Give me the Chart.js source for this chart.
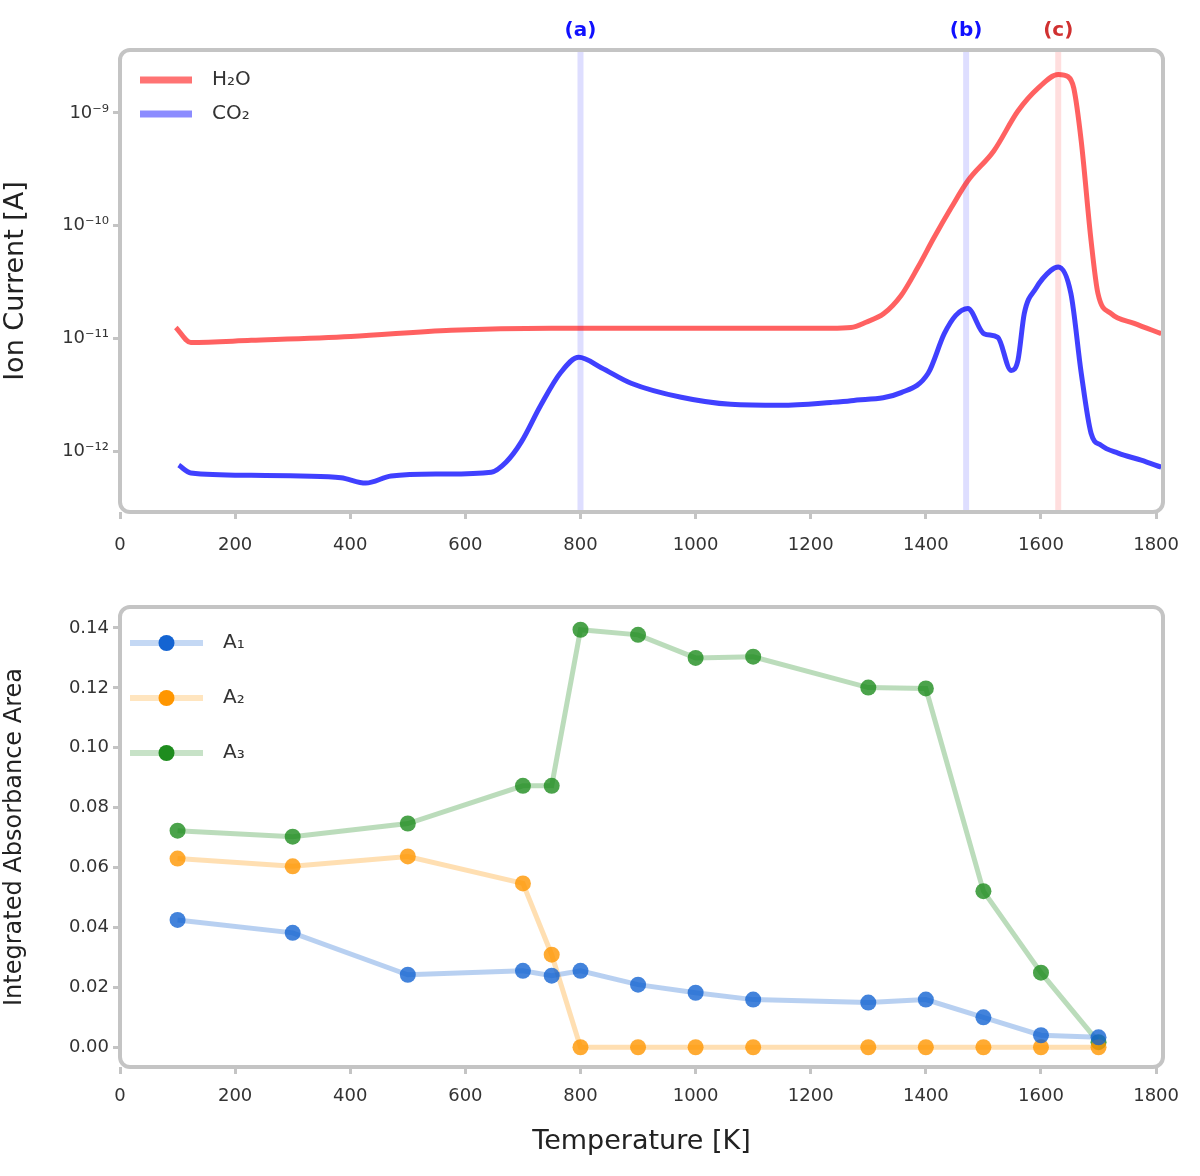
<!DOCTYPE html>
<html>
<head>
<meta charset="utf-8">
<script src="https://cdn.jsdelivr.net/npm/chart.js@4.4.1/dist/chart.umd.min.js"></script>
<style>
  body { margin: 0; background: #fff; }
  #wrap { position: relative; width: 1200px; height: 1176px; }
  #topBox { position: absolute; left: 0; top: 0; width: 1200px; height: 580px; }
  #botBox { position: absolute; left: 0; top: 580px; width: 1200px; height: 596px; }
</style>
</head>
<body>
<div id="wrap">
  <div id="topBox"><canvas id="ionChart"></canvas></div>
  <div id="botBox"><canvas id="areaChart"></canvas></div>
</div>
<script>
// --- top panel: ion current (log scale) ---
const redLabel = 'H₂O';
const redTemps = [97, 123, 228, 401, 575, 749, 922, 1096, 1235, 1270, 1296, 1327, 1357, 1386, 1414, 1444,
  1473, 1518, 1560, 1595, 1630, 1647, 1657, 1670, 1687, 1699, 1722, 1762, 1809];
const redCurrent = [1.25e-11, 9.2e-12, 9.6e-12, 1.04e-11, 1.18e-11, 1.23e-11, 1.23e-11, 1.23e-11, 1.23e-11,
  1.25e-11, 1.39e-11, 1.66e-11, 2.4e-11, 4.25e-11, 7.8e-11, 1.44e-10, 2.5e-10, 4.6e-10, 1.04e-9, 1.66e-9,
  2.2e-9, 2.1e-9, 1.66e-9, 5.6e-10, 7.4e-11, 2.5e-11, 1.66e-11, 1.36e-11, 1.1e-11];

const blueLabel = 'CO₂';
const blueTemps = [102, 123, 228, 314, 384, 427, 471, 558, 645, 671, 697, 731, 766, 797, 836, 888, 975, 1061,
  1148, 1235, 1270, 1357, 1404, 1432, 1452, 1473, 1501, 1525, 1548, 1560, 1571, 1591, 1617, 1630, 1652, 1670,
  1687, 1704, 1734, 1774, 1809];
const blueCurrent = [7.5e-13, 6.4e-13, 6.1e-13, 6.0e-13, 5.8e-13, 5.2e-13, 6.0e-13, 6.25e-13, 6.5e-13, 8.0e-13,
  1.2e-12, 2.55e-12, 5.0e-12, 6.8e-12, 5.5e-12, 4.0e-12, 3.0e-12, 2.6e-12, 2.55e-12, 2.7e-12, 2.8e-12, 3.3e-12,
  4.9e-12, 1.1e-11, 1.6e-11, 1.84e-11, 1.1e-11, 1.02e-11, 5.2e-12, 6.4e-12, 1.66e-11, 2.77e-11, 4.0e-11, 4.3e-11,
  2.5e-11, 4.9e-12, 1.44e-12, 1.13e-12, 9.6e-13, 8.3e-13, 7.2e-13];

const peakTemps = [800, 1470, 1630];
const peakLabels = ['(a)', '(b)', '(c)'];
const peakColors = ['blue', 'blue', 'red'];

const ionTicks = [1e-12, 1e-11, 1e-10, 1e-9];
const ionTickLabels = ['10⁻¹²', '10⁻¹¹', '10⁻¹⁰', '10⁻⁹'];

// --- bottom panel: integrated absorbance areas ---
const sampleTemps = [100, 300, 500, 700, 750, 800, 900, 1000, 1100, 1300, 1400, 1500, 1600, 1700];
const areaLabels = ['A₁', 'A₂', 'A₃'];
const areaA1 = [0.0425, 0.0382, 0.0242, 0.0255, 0.0239, 0.0255, 0.0209, 0.0182, 0.0159, 0.0149, 0.0159, 0.010, 0.004, 0.0033];
const areaA2 = [0.063, 0.0604, 0.0637, 0.0547, 0.0309, 0, 0, 0, 0, 0, 0, 0, 0, 0];
const areaA3 = [0.0723, 0.0703, 0.0747, 0.0873, 0.0873, 0.1394, 0.1377, 0.130, 0.1304, 0.1201, 0.1198, 0.0521, 0.0249, 0.0017];
const areaTicks = [0, 0.02, 0.04, 0.06, 0.08, 0.10, 0.12, 0.14];

const tempTicks = [0, 200, 400, 600, 800, 1000, 1200, 1400, 1600, 1800];

Chart.defaults.font.family = 'DejaVu Sans';
Chart.defaults.font.size = 18;
Chart.defaults.color = '#333';
Chart.defaults.animation = false;

const rgba = (c, a) => `rgba(${c[0]},${c[1]},${c[2]},${a})`;
const C_BLUE = [20, 100, 210], C_ORANGE = [255, 150, 0], C_GREEN = [30, 140, 30];

// rounded grey frame like the original
const framePlugin = {
  id: 'frame',
  afterDatasetsDraw(chart) {
    const { ctx, chartArea: a } = chart;
    ctx.save();
    ctx.strokeStyle = '#c4c4c4';
    ctx.lineWidth = 4;
    ctx.beginPath();
    ctx.roundRect(a.left, a.top, a.right - a.left, a.bottom - a.top, 10);
    ctx.stroke();
    ctx.restore();
  }
};

// vertical peak markers + labels above the top panel
const peakPlugin = {
  id: 'peaks',
  beforeDatasetsDraw(chart) {
    const { ctx, chartArea: a, scales: { x } } = chart;
    ctx.save();
    peakTemps.forEach((t, i) => {
      const px = x.getPixelForValue(t);
      ctx.strokeStyle = peakColors[i] === 'red' ? 'rgba(255,0,0,0.13)' : 'rgba(0,0,255,0.13)';
      ctx.lineWidth = 6;
      ctx.beginPath();
      ctx.moveTo(px, a.top);
      ctx.lineTo(px, a.bottom);
      ctx.stroke();
      ctx.fillStyle = peakColors[i] === 'red' ? '#d03030' : '#1010ff';
      ctx.font = 'bold 20px DejaVu Sans';
      ctx.textAlign = 'center';
      ctx.textBaseline = 'middle';
      ctx.fillText(peakLabels[i], px, a.top - 19);
    });
    ctx.restore();
  }
};

// legend drawn inside the plot area, top-left
function legendPlugin(rows) {
  return {
    id: 'innerLegend',
    afterDraw(chart) {
      const { ctx } = chart;
      ctx.save();
      chart.data.datasets.forEach((ds, i) => {
        const r = rows[i];
        ctx.strokeStyle = r.line;
        ctx.lineWidth = r.width;
        ctx.beginPath();
        ctx.moveTo(r.x0, r.y);
        ctx.lineTo(r.x1, r.y);
        ctx.stroke();
        if (r.marker) {
          ctx.fillStyle = r.marker;
          ctx.beginPath();
          ctx.arc((r.x0 + r.x1) / 2, r.y, 8, 0, Math.PI * 2);
          ctx.fill();
        }
        ctx.fillStyle = '#333';
        ctx.font = '20px DejaVu Sans';
        ctx.textAlign = 'left';
        ctx.textBaseline = 'middle';
        ctx.fillText(ds.label, r.tx, r.y);
      });
      ctx.restore();
    }
  };
}

function xAxis(height, padding, title) {
  return {
    type: 'linear', min: 0, max: 1812,
    afterBuildTicks: s => { s.ticks = tempTicks.map(v => ({ value: v })); },
    afterFit: s => { s.height = height; },
    grid: { drawOnChartArea: false, drawTicks: true, tickLength: 7, color: '#c4c4c4', lineWidth: 3 },
    border: { display: false },
    ticks: { padding: padding, maxRotation: 0, callback: v => String(v) },
    title: title ? { display: true, text: title, font: { size: 27 }, color: '#222', padding: { top: 4, bottom: 18 } } : { display: false }
  };
}

new Chart(document.getElementById('ionChart'), {
  type: 'line',
  data: {
    datasets: [
      { label: redLabel, data: redTemps.map((t, i) => ({ x: t, y: redCurrent[i] })),
        borderColor: 'rgba(255,0,0,0.62)', borderWidth: 5, pointRadius: 0, cubicInterpolationMode: 'monotone' },
      { label: blueLabel, data: blueTemps.map((t, i) => ({ x: t, y: blueCurrent[i] })),
        borderColor: 'rgba(0,0,255,0.75)', borderWidth: 5, pointRadius: 0, cubicInterpolationMode: 'monotone' }
    ]
  },
  options: {
    responsive: true, maintainAspectRatio: false,
    layout: { padding: { top: 50, right: 37, left: 0, bottom: 0 } },
    plugins: { legend: { display: false }, tooltip: { enabled: false } },
    scales: {
      x: xAxis(68, 16, null),
      y: {
        type: 'logarithmic', min: 2.88e-13, max: 3.62e-9,
        afterBuildTicks: s => { s.ticks = ionTicks.map(v => ({ value: v })); },
        afterFit: s => { s.width = 120; },
        grid: { drawOnChartArea: false, drawTicks: true, tickLength: 7, color: '#c4c4c4', lineWidth: 3 },
        border: { display: false },
        ticks: { padding: 4, callback: v => ionTickLabels[ionTicks.indexOf(v)] },
        title: { display: true, text: 'Ion Current [A]', font: { size: 27 }, color: '#222', padding: { top: 0, bottom: 2 } }
      }
    }
  },
  plugins: [peakPlugin, framePlugin, legendPlugin([
    { x0: 140, x1: 192, y: 80, tx: 212, line: 'rgba(255,0,0,0.55)', width: 7 },
    { x0: 140, x1: 192, y: 114, tx: 212, line: 'rgba(0,0,255,0.45)', width: 7 }
  ])]
});

const areaSet = (label, values, c) => ({
  label, data: sampleTemps.map((t, i) => ({ x: t, y: values[i] })),
  borderColor: rgba(c, 0.3), borderWidth: 5,
  pointRadius: 8, pointBorderWidth: 0, pointBackgroundColor: rgba(c, 0.8)
});

new Chart(document.getElementById('areaChart'), {
  type: 'line',
  data: {
    datasets: [
      areaSet(areaLabels[0], areaA1, C_BLUE),
      areaSet(areaLabels[1], areaA2, C_ORANGE),
      areaSet(areaLabels[2], areaA3, C_GREEN)
    ]
  },
  options: {
    responsive: true, maintainAspectRatio: false,
    layout: { padding: { top: 27, right: 37, left: 0, bottom: 0 } },
    plugins: { legend: { display: false }, tooltip: { enabled: false } },
    scales: {
      x: xAxis(109, 12, 'Temperature [K]'),
      y: {
        min: -0.0066, max: 0.147,
        afterBuildTicks: s => { s.ticks = areaTicks.map(v => ({ value: v })); },
        afterFit: s => { s.width = 120; },
        grid: { drawOnChartArea: false, drawTicks: true, tickLength: 7, color: '#c4c4c4', lineWidth: 3 },
        border: { display: false },
        ticks: { padding: 4, callback: v => v.toFixed(2) },
        title: { display: true, text: 'Integrated Absorbance Area', font: { size: 24 }, color: '#222', padding: { top: 0, bottom: 0 } }
      }
    }
  },
  plugins: [framePlugin, legendPlugin([
    { x0: 130, x1: 203, y: 63, tx: 223, line: rgba(C_BLUE, 0.25), width: 6, marker: rgba(C_BLUE, 1) },
    { x0: 130, x1: 203, y: 118, tx: 223, line: rgba(C_ORANGE, 0.25), width: 6, marker: rgba(C_ORANGE, 1) },
    { x0: 130, x1: 203, y: 173, tx: 223, line: rgba(C_GREEN, 0.25), width: 6, marker: rgba(C_GREEN, 1) }
  ])]
});
</script>
</body>
</html>
